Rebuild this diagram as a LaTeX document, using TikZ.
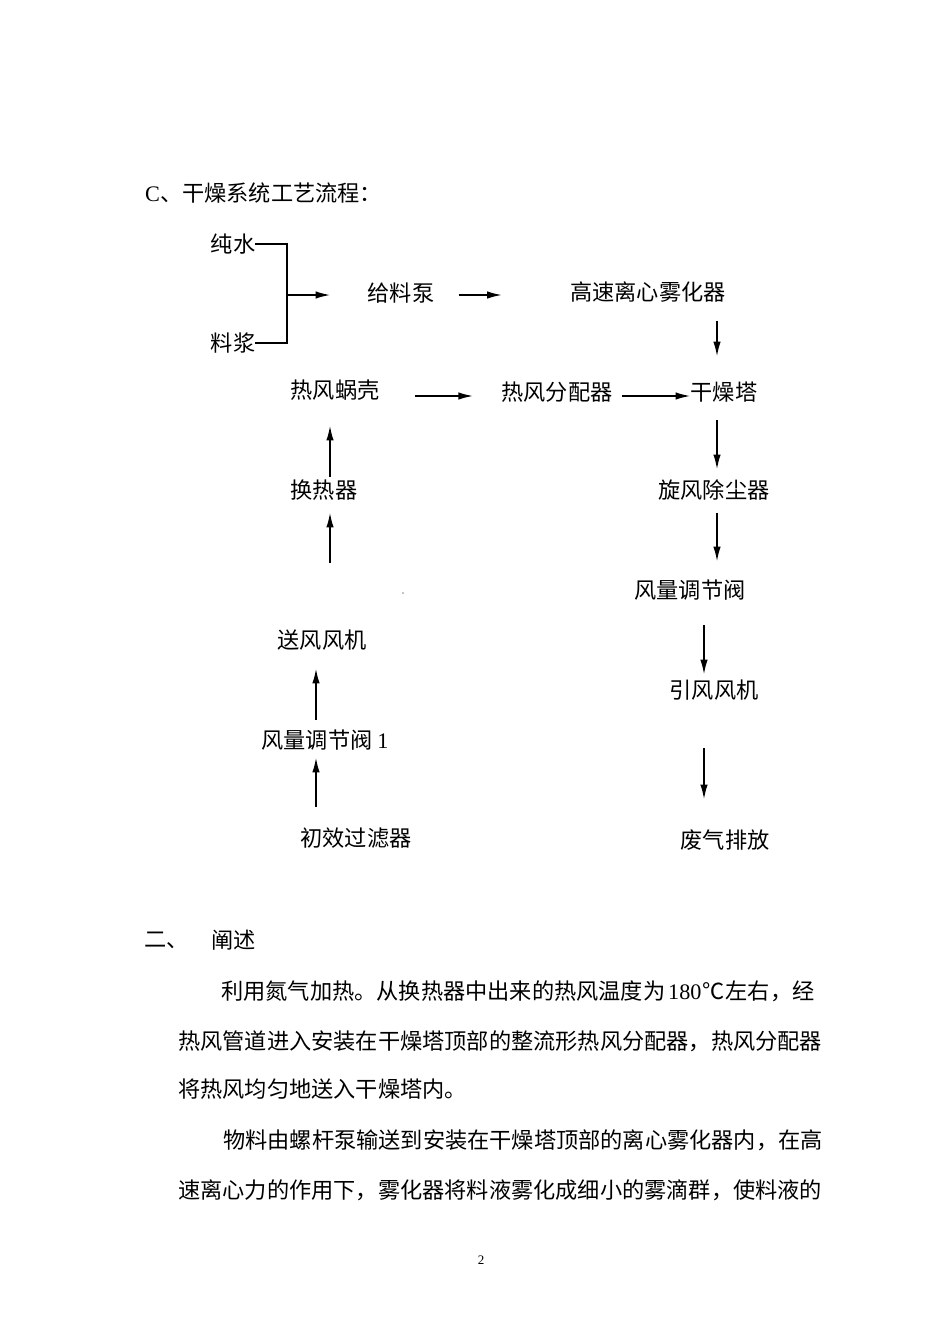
\documentclass[tikz,border=0pt]{standalone}
\usepackage{fontspec}
\setmainfont{Liberation Serif}
\newfontfamily\cjk{Noto Sans CJK SC}
\usetikzlibrary{arrows.meta}
\XeTeXlinebreaklocale "zh"
\XeTeXlinebreakskip=0pt plus 2pt
\newcommand\lat[1]{{\rmfamily #1}}
\begin{document}
\begin{tikzpicture}[x=1pt,y=-1pt,
  every node/.style={inner sep=0pt,font=\cjk\fontsize{22.2}{26}\selectfont},
  flow/.style={-{Latex[length=15pt,width=7.5pt]},line width=1.8pt},
  pipe/.style={line width=1.4pt}]
\useasboundingbox[fill=white] (0,0) rectangle (950,1344);
\coordinate(colR) at (717,0);
\coordinate(colRR) at (704,0);
\coordinate(colL) at (330,0);
\coordinate(colLL) at (316,0);
\coordinate(rowB) at (0,396);
%
\node(title)[anchor=west] at (145,193) {\lat{C}、干燥系统工艺流程：};
%
\node(water) at (233,244) {纯水};
\node(slurry) at (233,343) {料浆};
\coordinate(merge) at (287,295);
\draw[pipe](water.east) -| (merge) |- (slurry.east) {};
%
\node(pump) at (401,293) {给料泵};
\draw[flow,shorten >=37pt](merge) -- (pump.west |- merge) {};
%
\node(atom) at (648,292) {高速离心雾化器};
\draw[flow,shorten <=24pt,shorten >=68pt](pump.east |- merge) -- (atom.west |- merge) {};
%
\node(tower) at (724,392) {干燥塔};
\draw[flow,shorten <=18pt,shorten >=25pt](atom.south -| colR) -- (tower.north -| colR) {};
%
\node(cyclone) at (714,490) {旋风除尘器};
\draw[flow,shorten <=18pt,shorten >=10pt](tower.south -| colR) -- (cyclone.north -| colR) {};
%
\node(valveR) at (690,590) {风量调节阀};
\draw[flow,shorten <=12pt,shorten >=18pt](cyclone.south -| colR) -- (valveR.north -| colR) {};
%
\node(fan) at (714,690) {引风风机};
\draw[flow,shorten <=25pt,shorten >=5pt](valveR.south -| colRR) -- (fan.north -| colRR) {};
%
\node(exhaust) at (725,840) {废气排放};
\draw[flow,shorten <=48pt,shorten >=30pt](fan.south -| colRR) -- (exhaust.north -| colRR) {};
%
\node(dist) at (557,392) {热风分配器};
\draw[flow,shorten <=9pt](dist.east |- rowB) -- (tower.west |- rowB) {};
%
\node(volute) at (335,390) {热风蜗壳};
\draw[flow,shorten <=35pt,shorten >=28pt](volute.east |- rowB) -- (dist.west |- rowB) {};
%
\node(hx) at (324,490) {换热器};
\draw[flow,shorten <=3pt,shorten >=25pt](hx.north -| colL) -- (volute.south -| colL) {};
%
\node(blower) at (322,640) {送风风机};
\draw[flow,shorten <=67pt,shorten >=12pt](blower.north -| colL) -- (hx.south -| colL) {};
%
\node(valveL) at (325,740) {风量调节阀 \lat{1}};
\draw[flow,shorten <=10pt,shorten >=18pt](valveL.north -| colLL) -- (blower.south -| colLL) {};
%
\node(filter) at (356,838) {初效过滤器};
\draw[flow,shorten <=21pt,shorten >=7pt](filter.north -| colLL) -- (valveL.south -| colLL) {};
%
\fill (403,593) circle (0.7);
%
\node(sec)[anchor=west] at (144,940) {二、};
\node(sectitle)[anchor=west] at (211,940) {阐述};
\node(line1)[anchor=west] at (221,991) {\makebox[597pt][s]{利用氮气加热。从换热器中出来的热风温度为\hspace{3pt}\lat{180}\hspace{1pt}℃\hspace{1pt}左右，经}};
\node(line2)[anchor=west] at (178,1041) {\makebox[638pt][s]{热风管道进入安装在干燥塔顶部的整流形热风分配器，热风分配器}};
\node(line3)[anchor=west] at (178,1089) {将热风均匀地送入干燥塔内。};
\node(line4)[anchor=west] at (223,1140) {\makebox[593pt][s]{物料由螺杆泵输送到安装在干燥塔顶部的离心雾化器内，在高}};
\node(line5)[anchor=west] at (178,1190) {\makebox[638pt][s]{速离心力的作用下，雾化器将料液雾化成细小的雾滴群，使料液的}};
%
\node(page) at (481,1260) {\lat{\fontsize{13}{15}\selectfont 2}};
\end{tikzpicture}
\end{document}
